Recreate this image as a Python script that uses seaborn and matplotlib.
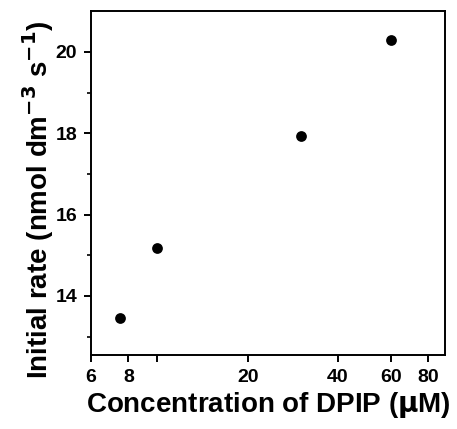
import matplotlib
matplotlib.use("Agg")
import matplotlib.pyplot as plt
import seaborn as sns
import pandas as pd
from matplotlib.ticker import FixedLocator, FixedFormatter, NullLocator

concentration = [7.5, 10, 30, 60]
rate = [13.46, 15.17, 17.94, 20.29]
x_ticks = [6, 8, 10, 20, 40, 60, 80]
x_tick_labels = ["6", "8", "", "20", "40", "60", "80"]
y_ticks = [14, 16, 18, 20]
y_minor = [13, 15, 17, 19]

sns.set_theme(style="ticks")
plt.rcParams['font.family'] = ['Liberation Sans', 'DejaVu Sans']
plt.rcParams['font.weight'] = 'bold'
plt.rcParams['mathtext.default'] = 'bf'
plt.rcParams['text.color'] = 'black'
plt.rcParams['axes.labelcolor'] = 'black'
plt.rcParams['xtick.color'] = 'black'
plt.rcParams['ytick.color'] = 'black'

df = pd.DataFrame({"c": concentration, "r": rate})

fig = plt.figure(figsize=(4.57, 4.29), dpi=100)
ax = fig.add_axes([0.199, 0.1725, 0.775, 0.8015])
sns.scatterplot(data=df, x="c", y="r", ax=ax, color="black", s=60,
                edgecolor="black", linewidth=0, zorder=3)
ax.set_xscale("log")
ax.set_xlim(6, 91)
ax.set_ylim(12.55, 21.0)
ax.xaxis.set_major_locator(FixedLocator(x_ticks))
ax.xaxis.set_major_formatter(FixedFormatter(x_tick_labels))
ax.xaxis.set_minor_locator(NullLocator())
ax.yaxis.set_major_locator(FixedLocator(y_ticks))
ax.yaxis.set_minor_locator(FixedLocator(y_minor))

for sp in ax.spines.values():
    sp.set_linewidth(1.4)
    sp.set_color("black")
    sp.set_visible(True)

ax.tick_params(axis="both", which="major", direction="out", length=5, width=1.4,
               labelsize=14, labelcolor="black", colors="black", pad=5)
ax.tick_params(axis="both", which="minor", direction="out", length=3, width=1.2,
               colors="black")
for lab in ax.get_xticklabels() + ax.get_yticklabels():
    lab.set_fontweight("bold")

ax.set_xlabel(r"Concentration of DPIP ($\mathbf{\mu}$M)", fontsize=20,
              fontweight="bold", labelpad=3, color="black")
ax.set_ylabel(r"Initial rate (nmol dm$^{-3}$ s$^{-1}$)", fontsize=20,
              fontweight="bold", color="black")
ax.yaxis.set_label_coords(-0.10, 0.45)

fig.savefig("out.png", dpi=100)
